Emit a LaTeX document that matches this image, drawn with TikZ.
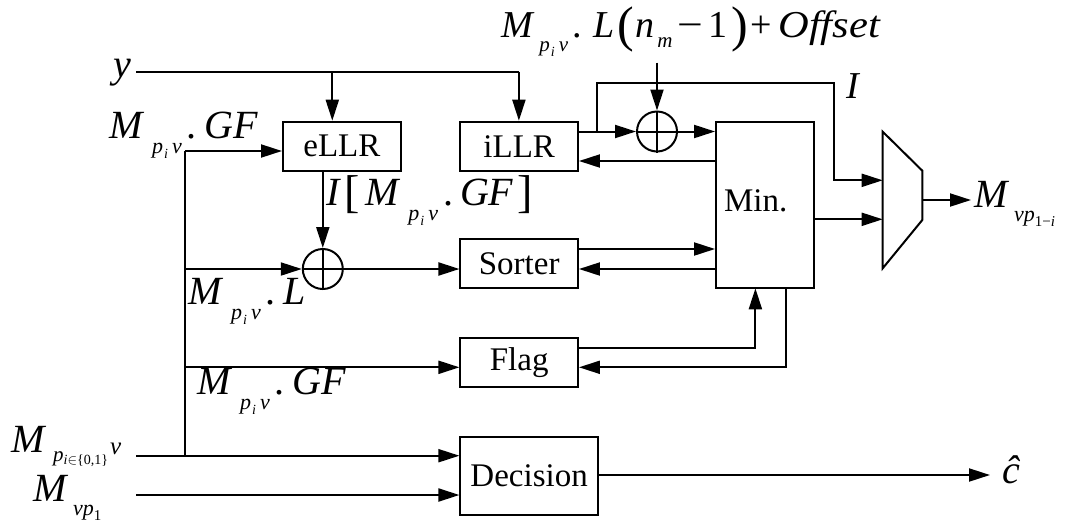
\documentclass[tikz,border=0pt]{standalone}
\usepackage{graphicx}
\usepackage{fontspec}
\setmainfont{Liberation Serif}[ItalicFont={Liberation Serif Italic},BoldFont={Liberation Serif Bold}]
\usetikzlibrary{arrows.meta}
\newcommand\SM[1]{{\fontsize{22}{22}\selectfont\itshape #1}}
\newcommand\SSM[1]{{\fontsize{14}{14}\selectfont\itshape #1}}
\newcommand\piv{\raisebox{-15pt}{\SM{p}\hspace{1pt}\raisebox{-5pt}{\SSM{i}}\hspace{4pt}\SM{v}}}
\newcommand\Mpiv{\textit{M}\hspace{8pt}\piv}
\begin{document}
\begin{tikzpicture}[x=1pt,y=-1pt,
  every path/.style={line width=2pt},
  box/.style={draw,line width=2pt,inner sep=0pt,font=\fontsize{33}{36}\selectfont},
  lbl/.style={inner sep=0pt,anchor=base west,font=\fontsize{40}{44}\selectfont},
  tlbl/.style={inner sep=0pt,anchor=base west,font=\fontsize{38}{40}\selectfont},
  adder/.style={draw,circle,line width=2pt,minimum size=40pt,inner sep=0pt},
  arr/.style={-{Triangle[length=21pt,width=13pt]}}]
\useasboundingbox (0,0) rectangle (1068,531);
% boxes
\node[box,minimum width=117.8pt,minimum height=49pt] (eLLR) at (341.9,146.2) {eLLR};
\node[box,minimum width=117.5pt,minimum height=49pt] (iLLR) at (519.2,146.2) {iLLR};
\node[box,minimum width=117.5pt,minimum height=49pt] (Sorter) at (519.2,263.8) {Sorter};
\node[box,minimum width=117.5pt,minimum height=48.4pt] (Flag) at (519.2,362.5) {Flag};
\node[box,minimum width=137.4pt,minimum height=78.3pt] (Decision) at (529.1,475.85) {Decision};
\node[box,minimum width=98.3pt,minimum height=166.6pt] (Min) at (765.2,205) {};
\node[inner sep=0pt,font=\fontsize{33}{36}\selectfont] (MinT) at (755.7,201) {Min.};
% adders
\node[adder] (a1) at (322.8,269) {};
\draw (a1.north) -- (a1.south) (a1.west) -- (a1.east);
\node[adder] (a2) at (657,131.5) {};
\draw (a2.north) -- (a2.south) (a2.west) -- (a2.east);
% mux
\coordinate (mxA) at (882.7,131.7);
\coordinate (mxB) at (922.3,170.7);
\coordinate (mxC) at (922.3,220);
\coordinate (mxD) at (882.7,268.3);
\draw (mxA) -- (mxB) -- (mxC) -- (mxD) -- cycle;
\coordinate (mx1) at (882.7,180.3);
\coordinate (mx2) at (882.7,219.3);
\coordinate (mxo) at (922.3,200);
\coordinate (outE) at (971,200);
% helper coordinates
\coordinate (yin) at (136.4,71.7);
\coordinate (bus) at (185.2,151);
\coordinate (m1) at (136.4,455.7);
\coordinate (m2) at (136.4,495);
\coordinate (rFl) at (0,367.3);
\coordinate (r161) at (0,161);
\coordinate (r249) at (0,249);
\coordinate (r269) at (0,269);
\coordinate (r347) at (0,347.7);
\coordinate (r219) at (0,219.3);
\coordinate (br) at (597,131.5);
\coordinate (brT) at (597,82.7);
\coordinate (brR) at (834,82.7);
\coordinate (eDrop) at (332.3,71.7);
\coordinate (iDrop) at (518.9,71.7);
\coordinate (offA) at (657,62.7);
\coordinate (flUp) at (755.4,288.3);
\coordinate (flDn) at (785.5,288.3);
\coordinate (decE) at (990,475);
% labels
\node[lbl] (ly) at (112,77) {\textit{y}};
\node[lbl] (lGF1) at (108,138) {\Mpiv\hspace{5pt}.\hspace{8pt}\textit{GF}};
\node[lbl] (lI) at (325,205) {\textit{I}\hspace{4pt}{\fontsize{46}{46}\selectfont\raisebox{-2pt}{[}}\hspace{5pt}\Mpiv\hspace{5pt}.\hspace{7pt}\textit{GF}\hspace{4pt}{\fontsize{46}{46}\selectfont\raisebox{-2pt}{]}}};
\node[lbl] (lL) at (187,304) {\Mpiv\hspace{5pt}.\hspace{8pt}\textit{L}};
\node[lbl] (lGF2) at (196,394) {\Mpiv\hspace{5pt}.\hspace{8pt}\textit{GF}};
\node[lbl] (lM1) at (10,452) {\textit{M}\hspace{7pt}\raisebox{-9pt}{{\fontsize{21}{21}\selectfont\itshape p}\raisebox{-3pt}{\fontsize{14}{14}\selectfont\textit{i}$\in$\{0,1\}}\hspace{2pt}}\raisebox{-2pt}{\fontsize{25}{25}\selectfont\itshape v}};
\node[lbl] (lM2) at (32,501) {\textit{M}\hspace{5pt}\raisebox{-14pt}{\SM{v}\SM{p}\raisebox{-5pt}{\fontsize{15}{15}\selectfont 1}}};
\node[tlbl] (ltop) at (500,37) {\textit{M}\hspace{5pt}\raisebox{-14pt}{\fontsize{21}{21}\selectfont\textit{p}\hspace{1pt}\raisebox{-5pt}{\SSM{i}}\hspace{4pt}\textit{v}}\hspace{4pt}.\hspace{12pt}\textit{L}\hspace{3pt}{\fontsize{50}{50}\selectfont\raisebox{-4pt}{(}}\hspace{1pt}\textit{n}\hspace{3pt}\raisebox{-10pt}{\fontsize{21}{21}\selectfont\textit{m}}\hspace{5pt}\scalebox{1.2}[1]{−}\hspace{5pt}1\hspace{4pt}{\fontsize{50}{50}\selectfont\raisebox{-4pt}{)}}\hspace{3pt}+\hspace{6pt}\scalebox{1.12}[1]{\textit{Offset}}};
\node[tlbl] (lItop) at (845,98) {\textit{I}};
\node[lbl] (lout) at (973,207) {\textit{M}\hspace{5pt}\raisebox{-14pt}{\SM{v}\SM{p}\raisebox{-5pt}{\fontsize{15}{15}\selectfont 1−\textit{i}}}};
\node[lbl] (chat) at (1001,483) {\textit{ĉ}};
% connectors
\draw (yin) -- (iDrop);
\draw[arr] (eDrop) -- (eDrop |- eLLR.north);
\draw[arr] (iDrop) -- (iDrop |- iLLR.north);
\draw (bus) -- (bus |- m1);
\draw[arr] (bus) -- (bus -| eLLR.west);
\draw[arr] (a1 |- eLLR.south) -- (a1.north);
\draw[arr] (bus |- a1) -- (a1.west);
\draw[arr] (a1.east) -- (a1 -| Sorter.west);
\draw[arr] (bus |- rFl) -- (rFl -| Flag.west);
\draw[arr] (m1) -- (m1 -| Decision.west);
\draw[arr] (m2) -- (m2 -| Decision.west);
\draw[arr] (Decision.east |- decE) -- (decE);
\draw[arr] (iLLR.east |- a2) -- (a2.west);
\draw[arr] (a2.east) -- (a2 -| Min.west);
\draw[arr] (br) -- (brT) -- (brR) |- (mx1);
\draw[arr] (offA) -- (a2.north);
\draw[arr] (Min.west |- r161) -- (iLLR.east |- r161);
\draw[arr] (Sorter.east |- r249) -- (Min.west |- r249);
\draw[arr] (Min.west |- r269) -- (Sorter.east |- r269);
\draw[arr] (Flag.east |- r347) -| (flUp);
\draw[arr] (flDn) |- (Flag.east |- rFl);
\draw[arr] (Min.east |- r219) -- (mx2);
\draw[arr] (mxo) -- (outE);
\end{tikzpicture}
\end{document}
